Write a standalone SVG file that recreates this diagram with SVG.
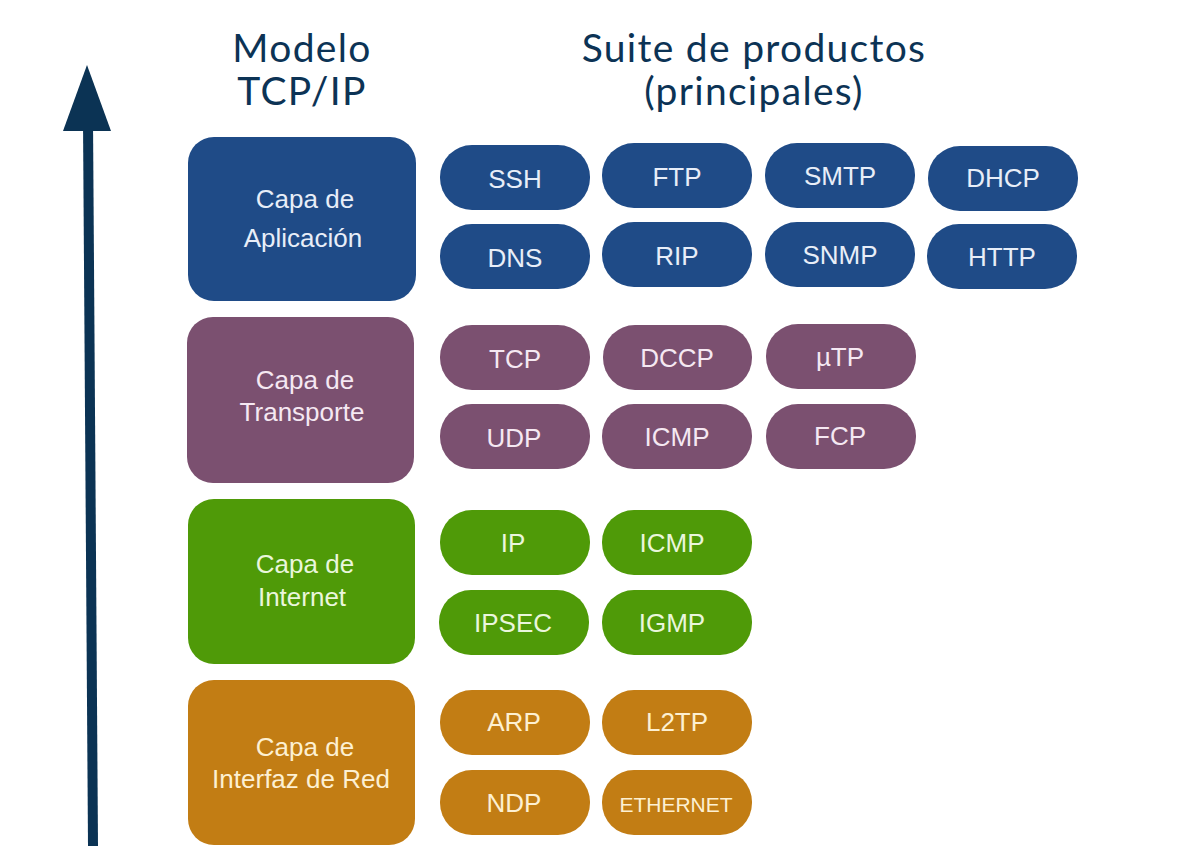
<svg xmlns="http://www.w3.org/2000/svg" width="1192" height="868" viewBox="0 0 1192 868">
<style>
.hdr{font-family:Lato,"Liberation Sans",sans-serif;font-size:39px;letter-spacing:1.3px;fill:#0c3355;text-anchor:middle}
.lt{font-family:"Liberation Sans",Arial,sans-serif;font-size:26px;text-anchor:middle;dominant-baseline:central}
.pt{font-family:"Liberation Sans",Arial,sans-serif;font-size:26px;text-anchor:middle;dominant-baseline:central}
.blue rect{fill:#1f4b87}
.blue text{fill:#e8eef8}
.purple rect{fill:#7b5070}
.purple text{fill:#f5e8f2}
.green rect{fill:#4f9a08}
.green text{fill:#eaf6dc}
.orange rect{fill:#c27d14}
.orange text{fill:#fdf0d2}
</style>
<rect width="1192" height="868" fill="#ffffff"/>
<g id="headers">
<text class="hdr" x="302" y="62">Modelo</text>
<text class="hdr" x="302" y="105">TCP/IP</text>
<text class="hdr" x="754" y="62">Suite de productos</text>
<text class="hdr" x="754" y="105">(principales)</text>
</g>
<g id="connectors">
<line x1="93" y1="846" x2="88" y2="120" stroke="#0b3354" stroke-width="10"/>
<polygon points="87,65 111,131 63,131" fill="#0b3354"/>
</g>
<g id="layer-aplicacion" class="blue">
<rect x="188" y="137" width="228" height="164" rx="26"/>
<text class="lt" x="305" y="199">Capa de</text>
<text class="lt" x="303" y="238">Aplicación</text>
</g>
<g id="layer-transporte" class="purple">
<rect x="187" y="317" width="227" height="166" rx="26"/>
<text class="lt" x="305" y="380">Capa de</text>
<text class="lt" x="302" y="412">Transporte</text>
</g>
<g id="layer-internet" class="green">
<rect x="188" y="499" width="227" height="165" rx="26"/>
<text class="lt" x="305" y="564">Capa de</text>
<text class="lt" x="302" y="597">Internet</text>
</g>
<g id="layer-red" class="orange">
<rect x="188" y="680" width="227" height="165" rx="26"/>
<text class="lt" x="305" y="747">Capa de</text>
<text class="lt" x="301" y="779">Interfaz de Red</text>
</g>
<g id="p-ssh" class="blue"><rect x="440" y="145" width="150" height="65" rx="32"/><text class="pt" x="515" y="179">SSH</text></g>
<g id="p-ftp" class="blue"><rect x="602" y="143" width="150" height="65" rx="32"/><text class="pt" x="677" y="177">FTP</text></g>
<g id="p-smtp" class="blue"><rect x="765" y="143" width="150" height="65" rx="32"/><text class="pt" x="840" y="176">SMTP</text></g>
<g id="p-dhcp" class="blue"><rect x="928" y="146" width="150" height="65" rx="32"/><text class="pt" x="1003" y="178">DHCP</text></g>
<g id="p-dns" class="blue"><rect x="440" y="224" width="150" height="65" rx="32"/><text class="pt" x="515" y="258">DNS</text></g>
<g id="p-rip" class="blue"><rect x="602" y="222" width="150" height="65" rx="32"/><text class="pt" x="677" y="256">RIP</text></g>
<g id="p-snmp" class="blue"><rect x="765" y="222" width="150" height="65" rx="32"/><text class="pt" x="840" y="255">SNMP</text></g>
<g id="p-http" class="blue"><rect x="927" y="224" width="150" height="65" rx="32"/><text class="pt" x="1002" y="257">HTTP</text></g>
<g id="p-tcp" class="purple"><rect x="440" y="325" width="150" height="65" rx="32"/><text class="pt" x="515" y="359">TCP</text></g>
<g id="p-dccp" class="purple"><rect x="603" y="325" width="149" height="65" rx="32"/><text class="pt" x="677" y="358">DCCP</text></g>
<g id="p-utp" class="purple"><rect x="766" y="324" width="150" height="65" rx="32"/><text class="pt" x="840" y="357">µTP</text></g>
<g id="p-udp" class="purple"><rect x="440" y="404" width="150" height="65" rx="32"/><text class="pt" x="514" y="438">UDP</text></g>
<g id="p-icmp-t" class="purple"><rect x="602" y="404" width="150" height="65" rx="32"/><text class="pt" x="677" y="437">ICMP</text></g>
<g id="p-fcp" class="purple"><rect x="766" y="404" width="150" height="65" rx="32"/><text class="pt" x="840" y="436">FCP</text></g>
<g id="p-ip" class="green"><rect x="440" y="510" width="150" height="65" rx="32"/><text class="pt" x="513" y="543">IP</text></g>
<g id="p-icmp-i" class="green"><rect x="602" y="510" width="150" height="65" rx="32"/><text class="pt" x="672" y="543">ICMP</text></g>
<g id="p-ipsec" class="green"><rect x="439" y="590" width="150" height="65" rx="32"/><text class="pt" x="513" y="623">IPSEC</text></g>
<g id="p-igmp" class="green"><rect x="602" y="590" width="150" height="65" rx="32"/><text class="pt" x="672" y="623">IGMP</text></g>
<g id="p-arp" class="orange"><rect x="440" y="690" width="150" height="65" rx="32"/><text class="pt" x="514" y="722">ARP</text></g>
<g id="p-l2tp" class="orange"><rect x="602" y="690" width="150" height="65" rx="32"/><text class="pt" x="677" y="722">L2TP</text></g>
<g id="p-ndp" class="orange"><rect x="440" y="770" width="150" height="65" rx="32"/><text class="pt" x="514" y="803">NDP</text></g>
<g id="p-ethernet" class="orange"><rect x="602" y="770" width="150" height="65" rx="32"/><text class="pt" x="676" y="804" style="font-size:21px">ETHERNET</text></g>
</svg>
